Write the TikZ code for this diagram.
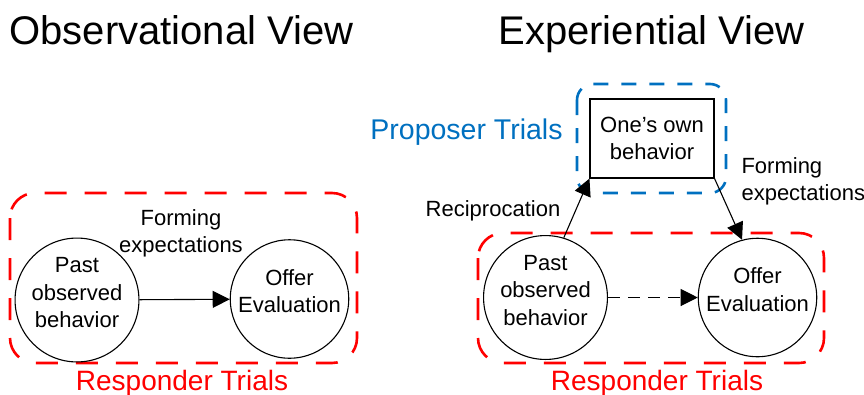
\documentclass[tikz,border=0pt]{standalone}
\usepackage{fontspec}
\setmainfont{Liberation Sans}
\usetikzlibrary{arrows.meta}
\definecolor{tred}{RGB}{255,0,0}
\definecolor{tblue}{RGB}{0,112,192}
\begin{document}
\begin{tikzpicture}[x=1pt,y=-1pt,
  circ/.style={draw,circle,line width=1.1pt,inner sep=0pt,align=center,
    font=\fontsize{22}{27.5}\selectfont},
  boxnode/.style={draw,rectangle,line width=1.1pt,inner sep=0pt,align=center,
    minimum width=124pt,minimum height=79pt,font=\fontsize{22}{27.5}\selectfont},
  lbl/.style={font=\fontsize{22}{27}\selectfont},
  title/.style={font=\fontsize{40}{48}\selectfont,anchor=base},
  trials/.style={font=\fontsize{28}{34}\selectfont,anchor=base},
  redgroup/.style={draw=tred,line width=2.6pt,dash pattern=on 22pt off 18pt,rounded corners=25pt},
  bluegroup/.style={draw=tblue,line width=2.6pt,dash pattern=on 15pt off 13pt,rounded corners=16pt},
  conn/.style={line width=1.1pt,-{Triangle[length=17pt,width=17pt]}},
]
\useasboundingbox (0,0) rectangle (864,394);

% titles
\node[title] (t1) at (181.5,44.5) {Observational View};
\node[title] (t2) at (651.5,44) {Experiential View};

% left group
\draw[redgroup] (10,193) rectangle (357,363);
\node[trials,text=tred] (rt1) at (182,390) {Responder Trials};
\node[circ,minimum size=112pt] (past1) at (77,300) {Past\\observed\\behavior\\[-13pt]\mbox{}};
\node[circ,minimum size=113pt] (offer1) at (289.5,299) {Offer\\Evaluation\\[-12pt]\mbox{}};
\draw[conn] (past1) -- (offer1);
\node[lbl,align=center] (fe1) at (181,233) {Forming\\expectations};

% right group
\draw[redgroup] (478,233) rectangle (824,363);
\node[trials,text=tred] (rt2) at (657,390) {Responder Trials};
\draw[bluegroup] (577,84) rectangle (726,193);
\node[trials,font=\fontsize{28.5}{34}\selectfont,text=tblue] (pt) at (466.5,139) {Proposer Trials};
\node[boxnode] (own) at (652,138.5) {One’s own\\behavior};
\node[circ,minimum size=113pt] (past2) at (545.5,297.5) {Past\\observed\\behavior\\[-13pt]\mbox{}};
\node[circ,minimum size=111pt] (offer2) at (757.5,297.5) {Offer\\Evaluation\\[-12pt]\mbox{}};
\draw[conn,dash pattern=on 12pt off 8pt] (past2) -- (offer2);
\draw[conn] (past2.73) -- (own.south west);
\draw[conn] (own.south east) -- (offer2.105);
\node[lbl] (rec) at (493,211) {Reciprocation};
\node[lbl,align=left,anchor=west] (fe2) at (738,181) {Forming\\expectations};
\end{tikzpicture}
\end{document}
